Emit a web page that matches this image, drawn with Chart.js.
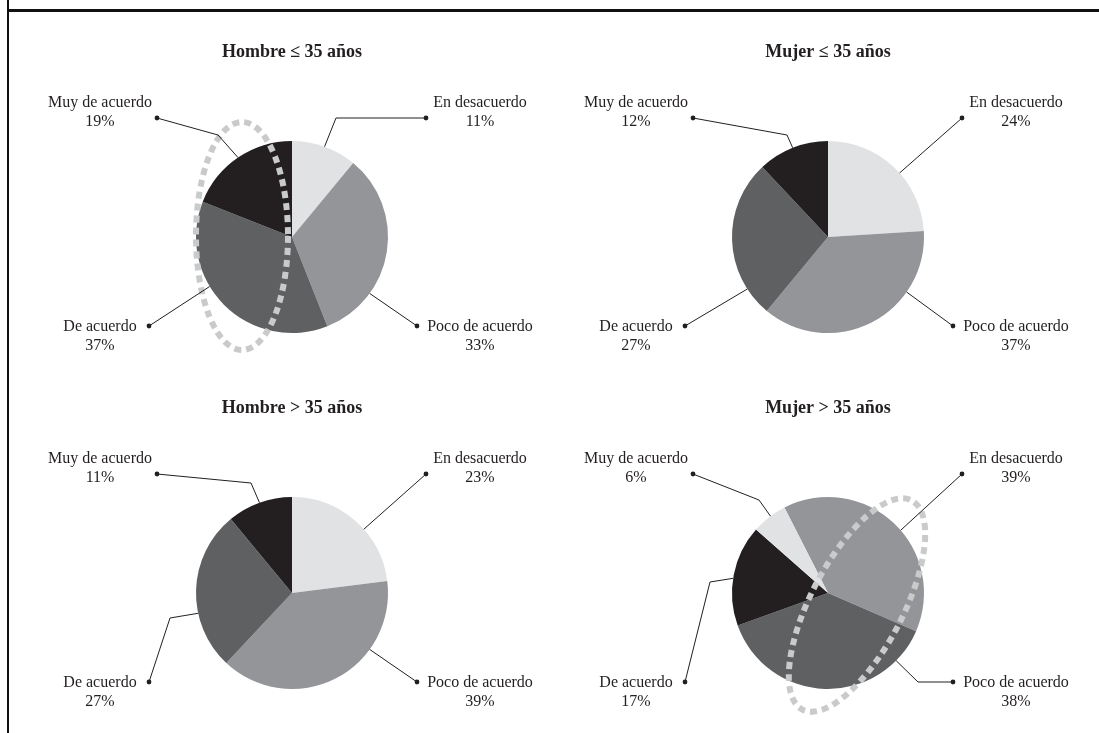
<!DOCTYPE html>
<html lang="es">
<head>
<meta charset="utf-8">
<title>Grado de acuerdo por sexo y edad</title>
<script src="https://cdn.jsdelivr.net/npm/chart.js@4.4.1/dist/chart.umd.min.js"></script>
<style>
  html, body { margin: 0; padding: 0; background: #ffffff; }
  body { width: 1099px; height: 733px; position: relative; overflow: hidden; }
  .rule-top { position: absolute; left: 7px; right: 0; top: 9px; height: 3px; background: #111; }
  .rule-left { position: absolute; left: 7px; top: 0; bottom: 0; width: 2px; background: #111; }
  .panel { position: absolute; width: 536px; height: 356px; }
</style>
</head>
<body>
<div class="rule-top"></div>
<div class="rule-left"></div>
<div class="panel" style="left:24px; top:13px;"><canvas id="c0"></canvas></div>
<div class="panel" style="left:560px; top:13px;"><canvas id="c1"></canvas></div>
<div class="panel" style="left:24px; top:369px;"><canvas id="c2"></canvas></div>
<div class="panel" style="left:560px; top:369px;"><canvas id="c3"></canvas></div>
<script>
// Answer categories (same order in every pie)
const categories = ['En desacuerdo', 'Poco de acuerdo', 'De acuerdo', 'Muy de acuerdo'];

// Percentages per group
const hombreHasta35 = [11, 33, 37, 19];
const mujerHasta35  = [24, 37, 27, 12];
const hombreMas35   = [23, 39, 27, 11];
const mujerMas35    = [39, 38, 17, 6];

// Panel titles
const panelTitles = ['Hombre ≤ 35 años', 'Mujer ≤ 35 años', 'Hombre > 35 años', 'Mujer > 35 años'];

// Grey scale
const LIGHT = '#e1e2e3', MID = '#939598', DARK = '#5f6062', BLACK = '#231f20';
const INK = '#231f20';
const FONT = '"Liberation Serif", "DejaVu Serif", "Times New Roman", serif';

// Label corner for each category: TR, BR, BL, TL
const corners = ['TR', 'BR', 'BL', 'TL'];

// Leader line settings per panel: angle shift from slice middle (deg),
// optional bend point relative to the pie centre.
const panels = [
  {
    values: hombreHasta35, colors: [LIGHT, MID, DARK, BLACK], rotation: 0,
    shift: [0, 27, 14, 0],
    bends: [[44, -119], null, null, [-74, -102]],
    ring: { dx: -50, dy: -1, rx: 46, ry: 114, tilt: 0 }
  },
  {
    values: mujerHasta35, colors: [LIGHT, MID, DARK, BLACK], rotation: 0,
    shift: [5, -28, -31, 0],
    bends: [null, null, null, [-41, -102]],
    ring: null
  },
  {
    values: hombreMas35, colors: [LIGHT, MID, DARK, BLACK], rotation: 0,
    shift: [7, -27, -14, 0],
    bends: [null, null, [-122, 25], [-41, -110]],
    ring: null
  },
  {
    values: mujerMas35, colors: [MID, DARK, BLACK, LIGHT], rotation: -27,
    shift: [6, -47, -2, 1],
    bends: [null, [90, 89], [-118, -11], [-69, -93]],
    ring: { dx: 29, dy: 12, rx: 46, ry: 118, tilt: 27.6 }
  }
];

// Dot anchor and text position of each corner, relative to the pie centre
const cornerLayout = {
  TL: { dot: [-135, -119], textX: -192, nameY: -134, pctY: -115 },
  TR: { dot: [134, -119],  textX: 188,  nameY: -134, pctY: -115 },
  BL: { dot: [-143, 89],   textX: -192, nameY: 90,   pctY: 109 },
  BR: { dot: [125, 89],    textX: 188,  nameY: 90,   pctY: 109 }
};

const calloutPlugin = {
  id: 'callouts',
  afterDatasetsDraw(chart, args, opts) {
    const ctx = chart.ctx;
    const meta = chart.getDatasetMeta(0);
    const arcs = meta.data;
    if (!arcs.length) return;
    const cx = arcs[0].x, cy = arcs[0].y, r = arcs[0].outerRadius;
    const values = chart.data.datasets[0].data;
    const labels = chart.data.labels;

    // dashed highlight ring
    if (opts.ring) {
      const g = opts.ring;
      ctx.save();
      ctx.strokeStyle = '#c9cacb';
      ctx.lineWidth = 6;
      ctx.setLineDash([7, 5]);
      ctx.beginPath();
      ctx.ellipse(cx + g.dx, cy + g.dy, g.rx, g.ry, g.tilt * Math.PI / 180, 0, Math.PI * 2);
      ctx.stroke();
      ctx.restore();
    }

    ctx.save();
    ctx.strokeStyle = INK;
    ctx.fillStyle = INK;
    ctx.lineWidth = 1;
    arcs.forEach((arc, i) => {
      const lay = cornerLayout[corners[i]];
      const a = (arc.startAngle + arc.endAngle) / 2 + (opts.shift[i] || 0) * Math.PI / 180;
      const sx = cx + r * Math.cos(a), sy = cy + r * Math.sin(a);
      const dx = cx + lay.dot[0], dy = cy + lay.dot[1];
      ctx.beginPath();
      ctx.moveTo(sx, sy);
      const b = opts.bends[i];
      if (b) ctx.lineTo(cx + b[0], cy + b[1]);
      ctx.lineTo(dx, dy);
      ctx.stroke();
      ctx.beginPath();
      ctx.arc(dx, dy, 2.4, 0, Math.PI * 2);
      ctx.fill();

      ctx.font = '16px ' + FONT;
      ctx.textAlign = 'center';
      ctx.textBaseline = 'middle';
      ctx.fillText(labels[i], cx + lay.textX, cy + lay.nameY);
      ctx.fillText(values[i] + '%', cx + lay.textX, cy + lay.pctY);
    });
    ctx.restore();
  }
};

panels.forEach((p, k) => {
  new Chart(document.getElementById('c' + k), {
    type: 'pie',
    data: {
      labels: categories,
      datasets: [{
        data: p.values,
        backgroundColor: p.colors,
        borderWidth: 0,
        hoverOffset: 0
      }]
    },
    options: {
      responsive: true,
      maintainAspectRatio: false,
      animation: false,
      rotation: p.rotation,
      layout: { padding: { top: 0, bottom: 36, left: 150, right: 150 } },
      events: [],
      plugins: {
        legend: { display: false },
        tooltip: { enabled: false },
        title: {
          display: true,
          text: panelTitles[k],
          color: INK,
          font: { family: FONT, size: 18, weight: 'bold' },
          padding: { top: 28.4, bottom: 78 }
        },
        callouts: { shift: p.shift, bends: p.bends, ring: p.ring }
      }
    },
    plugins: [calloutPlugin]
  });
});
</script>
</body>
</html>
